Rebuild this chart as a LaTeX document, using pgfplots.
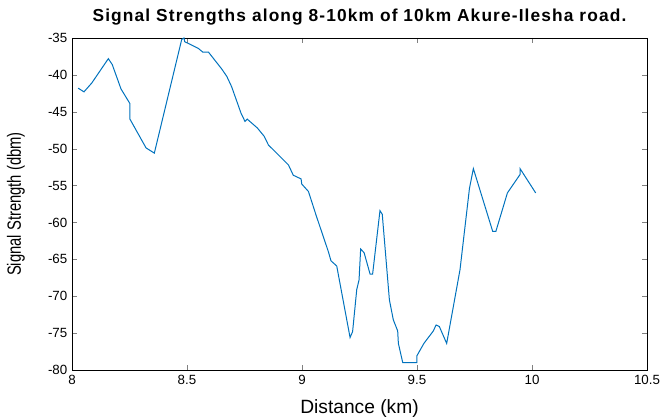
\documentclass[border=0pt]{standalone}
\usepackage{pgfplots}
\pgfplotsset{compat=1.18}
\usepackage{fontspec}
\setmainfont{Liberation Sans}
\newfontfamily\narrowfont[FakeStretch=0.77]{Liberation Sans}
\newfontfamily\titlefont[LetterSpace=6.5]{Liberation Sans}
\definecolor{mblue}{rgb}{0,0.447,0.741}
\begin{document}
\begin{tikzpicture}
\begin{axis}[
  at={(0,0)}, anchor=south west,
  scale only axis, width=431.25pt, height=249pt,
  xmin=8, xmax=10.5, ymin=-80, ymax=-35,
  xtick={8,8.5,...,10.5}, ytick={-80,-75,...,-35},
  tick align=inside, major tick length=4pt,
  /pgf/number format/assume math mode=true,
  ticklabel style={font=\fontsize{10}{12}\selectfont},
  xticklabel style={/pgf/number format/.cd, fixed, precision=1},
  title={\bfseries Signal Strengths along 8-10km of 10km Akure-Ilesha road.},
  every axis title/.style={at={(axis description cs:0.5,1)}, anchor=center, yshift=15.5pt,
     font=\fontsize{13}{16}\titlefont},
  xlabel={Distance (km)}, ylabel={Signal Strength (dbm)},
  every axis x label/.style={at={(axis description cs:0.5,0)}, anchor=center, yshift=-29pt,
     font=\fontsize{14.4}{16}\selectfont},
  every axis y label/.style={at={(axis description cs:0,0.5)}, anchor=center, rotate=90, yshift=42pt,
     font=\fontsize{14.4}{16}\narrowfont},
  every axis plot/.append style={line width=0.75pt},
  axis line style={line width=0.6pt},
  clip=true,
]
\addplot[mblue, no marks] coordinates {
(8.027,-41.8) (8.052,-42.3) (8.086,-41.1) (8.158,-37.8) (8.175,-38.6)
(8.213,-41.9) (8.252,-43.9) (8.252,-46.0) (8.322,-49.9) (8.358,-50.6)
(8.477,-35.2) (8.487,-35.0) (8.490,-35.5) (8.549,-36.4) (8.568,-36.9) (8.593,-36.9)
(8.651,-39.2) (8.673,-40.2) (8.694,-41.6) (8.735,-45.2) (8.752,-46.3)
(8.762,-46.0) (8.806,-47.2) (8.835,-48.3) (8.854,-49.5) (8.883,-50.4)
(8.941,-52.2) (8.962,-53.6) (8.996,-54.1) (8.999,-54.8) (9.028,-55.8)
(9.061,-59.0) (9.115,-64.0) (9.126,-65.2) (9.151,-65.9) (9.209,-75.6)
(9.220,-74.8) (9.238,-69.1) (9.248,-67.8) (9.255,-63.6) (9.270,-64.1)
(9.296,-67.0) (9.307,-67.0) (9.339,-58.4) (9.349,-58.9) (9.380,-70.5)
(9.397,-73.2) (9.416,-74.7) (9.419,-76.4) (9.438,-79.0) (9.499,-79.0)
(9.499,-78.1) (9.530,-76.4) (9.571,-74.7) (9.583,-73.9) (9.597,-74.1)
(9.629,-76.4) (9.687,-66.4) (9.728,-55.4) (9.745,-52.7) (9.829,-61.2)
(9.843,-61.2) (9.893,-56.0) (9.948,-53.5) (9.948,-52.7) (10.016,-56.0)
};
\end{axis}
\pgfresetboundingbox
\path (-54pt,-36pt) rectangle (445.5pt,277.5pt);
\end{tikzpicture}
\end{document}
